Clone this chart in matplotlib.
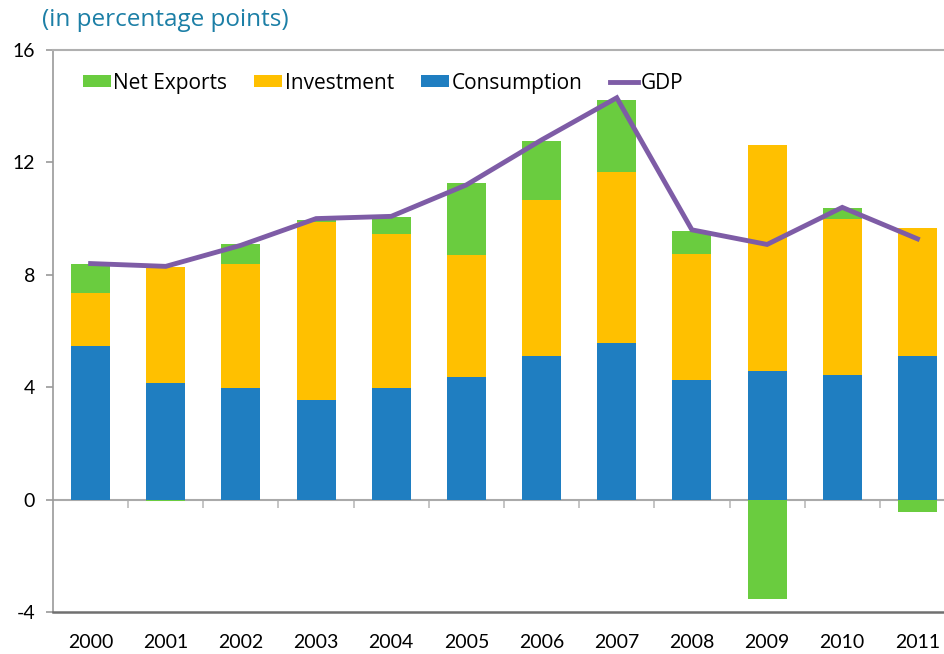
import matplotlib.pyplot as plt
import numpy as np

years = ["2000", "2001", "2002", "2003", "2004", "2005",
         "2006", "2007", "2008", "2009", "2010", "2011"]
consumption = [5.48, 4.16, 3.97, 3.56, 3.97, 4.35, 5.10, 5.59, 4.24, 4.57, 4.45, 5.12]
investment = [1.89, 4.12, 4.43, 6.31, 5.49, 4.34, 5.56, 6.07, 4.50, 8.04, 5.54, 4.55]
net_exports = [1.03, -0.05, 0.68, 0.09, 0.59, 2.57, 2.10, 2.57, 0.81, -3.53, 0.40, -0.44]
gdp = [8.4, 8.3, 9.05, 10.0, 10.08, 11.2, 12.8, 14.3, 9.6, 9.08, 10.4, 9.28]

c_green = "#6ACC3F"
c_yellow = "#FFC000"
c_blue = "#1F7EC1"
c_purple = "#7E5CA6"
c_axis = "#9A9A9A"

plt.rcParams["font.family"] = ["Open Sans", "DejaVu Sans"]

fig = plt.figure(figsize=(9.45, 6.54), dpi=100)
ax = fig.add_axes([53 / 945, 42 / 654, 902 / 945, 562 / 654])

x = np.arange(len(years))
cons = np.array(consumption)
inv = np.array(investment)
nx = np.array(net_exports)
width = 0.52

# stacked bars: net exports sit on top when positive, below zero when negative
nx_bottom = np.where(nx >= 0, cons + inv, 0)
b_nx = ax.bar(x, nx, width, bottom=nx_bottom, color=c_green, label="Net Exports", zorder=2)
b_inv = ax.bar(x, inv, width, bottom=cons, color=c_yellow, label="Investment", zorder=2)
b_cons = ax.bar(x, cons, width, color=c_blue, label="Consumption", zorder=2)
l_gdp, = ax.plot(x, gdp, color=c_purple, linewidth=3.5, label="GDP", zorder=3,
                 solid_joinstyle="miter")

ax.set_xlim(-0.5, len(years) - 0.5)
ax.set_ylim(-4, 16)
ax.set_yticks([-4, 0, 4, 8, 12, 16])
ax.set_yticklabels(["-4", "0", "4", "8", "12", "16"])

# year labels under the bottom line, no tick marks
ax.set_xticks(x)
ax.set_xticklabels(years)
ax.tick_params(axis="x", length=0, pad=16)
ax.tick_params(axis="y", length=5, color=c_axis, width=1.2, pad=8)
for lab in ax.get_xticklabels() + ax.get_yticklabels():
    lab.set_fontfamily("Lato")
    lab.set_fontsize(14)

# zero line with ticks at category boundaries
zero_ax = ax.secondary_xaxis(4 / 20)
zero_ax.set_xticks(np.arange(len(years) - 1) + 0.5)
zero_ax.set_xticklabels([])
zero_ax.tick_params(axis="x", length=6, color="#BBBBBB", width=1.2)
zero_ax.spines["bottom"].set_color("#AAAAAA")
zero_ax.spines["bottom"].set_linewidth(1.5)

ax.spines["right"].set_visible(False)
ax.spines["top"].set_color("#B0B0B0")
ax.spines["top"].set_linewidth(1.5)
ax.spines["left"].set_color(c_axis)
ax.spines["left"].set_linewidth(1.2)
ax.spines["bottom"].set_color("#707070")
ax.spines["bottom"].set_linewidth(1.8)

leg = ax.legend([b_nx, b_inv, b_cons, l_gdp],
                ["Net Exports", "Investment", "Consumption", "GDP"],
                loc="upper left", bbox_to_anchor=(0.019, 0.982), ncol=4,
                frameon=False, fontsize=15, handlelength=1.35, handleheight=0.5,
                handletextpad=0.12, columnspacing=1.3, borderaxespad=0.2)

fig.text(42 / 945, 1 - 20 / 654, "(in percentage points)", color="#1C7FA6",
         fontsize=17.5, ha="left", va="center")

plt.savefig("out.png", dpi=100)
